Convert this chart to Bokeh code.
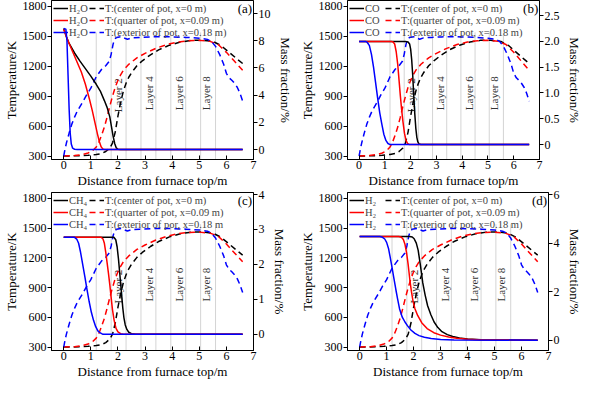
import math
from bokeh.plotting import figure
from bokeh.models import Range1d, LinearAxis, FixedTicker, Legend, LegendItem, Label
from bokeh.layouts import column, row
from bokeh.embed import file_html
from bokeh.resources import INLINE
from bokeh.core.properties import value

FONT = "Liberation Serif"

# ---------------- data ----------------
x_ticks = [0, 1, 2, 3, 4, 5, 6, 7]
t_ticks = [300, 600, 900, 1200, 1500, 1800]

layer_lines_x = [1.2, 1.75, 2.3, 2.85, 3.4, 3.95, 4.5, 5.05, 5.6]
layer_names = ["Layer 2", "Layer 4", "Layer 6", "Layer 8"]
layer_label_x = [2.0, 3.15, 4.25, 5.25]
layer_label_T = [910, 930, 930, 930]

# temperature profiles (K)
tc_x = [0, 0.3, 0.6, 0.9, 1.2, 1.4, 1.55, 1.7, 1.8, 1.9, 2.0, 2.1, 2.2, 2.3, 2.4, 2.5, 2.7, 2.9,
        3.2, 3.5, 3.9, 4.3, 4.7, 5.1, 5.5, 5.8, 6.1, 6.4, 6.6]
tc_T = [300, 301, 303, 307, 315, 325, 345, 380, 430, 540, 700, 840, 950, 1030, 1090, 1135, 1205, 1255,
        1315, 1365, 1412, 1443, 1460, 1462, 1450, 1408, 1340, 1272, 1228]

tq_x = [0, 0.4, 0.7, 0.9, 1.05, 1.2, 1.3, 1.4, 1.5, 1.6, 1.7, 1.8, 1.9, 2.0, 2.1, 2.2, 2.4, 2.7,
        3.0, 3.4, 3.8, 4.2, 4.6, 5.0, 5.4, 5.7, 6.0, 6.3, 6.6]
tq_T = [300, 304, 315, 330, 350, 390, 440, 510, 590, 690, 800, 900, 990, 1060, 1115, 1160, 1220, 1285,
        1330, 1380, 1418, 1443, 1457, 1460, 1450, 1418, 1340, 1250, 1160]

te_x = [0, 0.05, 0.1, 0.2, 0.3, 0.4, 0.5, 0.7, 0.85, 1.0, 1.2, 1.4, 1.55, 1.68, 1.75, 1.82, 1.88,
        1.95, 2.05, 2.15, 2.25, 2.35, 2.5, 2.8, 3.2, 3.6, 4.0, 4.5, 5.0, 5.3, 5.45, 5.6, 5.75,
        5.9, 6.0, 6.1, 6.2, 6.3, 6.4, 6.5, 6.6]
te_T = [300, 370, 430, 530, 620, 690, 750, 840, 915, 980, 1095, 1170, 1205, 1250, 1320, 1420, 1475,
        1488, 1494, 1497, 1482, 1472, 1485, 1490, 1495, 1497, 1495, 1490, 1482, 1470, 1450, 1400, 1320,
        1220, 1130, 1085, 1060, 1030, 990, 930, 850]

# (a) H2O mass fraction (%)
h2o_k_x = [0, 0.1, 0.2, 0.4, 0.6, 0.8, 1.0, 1.2, 1.35, 1.5, 1.6, 1.7, 1.76, 1.82, 1.88, 1.94, 2.0, 2.1, 6.6]
h2o_k_y = [8.9, 8.3, 7.8, 7.1, 6.5, 5.95, 5.4, 4.8, 4.3, 3.6, 3.1, 2.4, 1.7, 1.0, 0.45, 0.12, 0.02, 0, 0]
h2o_r_x = [0, 0.1, 0.2, 0.35, 0.5, 0.65, 0.8, 0.95, 1.05, 1.15, 1.25, 1.32, 1.38, 1.44, 1.5, 6.6]
h2o_r_y = [8.85, 8.3, 7.8, 7.1, 6.4, 5.7, 4.8, 3.7, 2.9, 2.0, 1.1, 0.55, 0.2, 0.05, 0, 0]
h2o_b_x = [0, 0.08, 0.12, 0.16, 0.2, 0.24, 0.28, 0.33, 0.4, 0.5, 6.6]
h2o_b_y = [8.9, 8.85, 8.0, 5.5, 3.0, 1.2, 0.4, 0.1, 0.02, 0, 0]

# (b) CO
co_k_x = [0, 1.8, 1.9, 1.96, 2.0, 2.04, 2.08, 2.12, 2.16, 2.2, 2.24, 2.28, 2.33, 2.4, 6.6]
co_k_y = [2.0, 2.0, 1.99, 1.95, 1.85, 1.65, 1.35, 0.95, 0.6, 0.32, 0.14, 0.05, 0.01, 0, 0]
co_r_x = [0, 1.25, 1.32, 1.38, 1.44, 1.5, 1.55, 1.6, 1.65, 1.7, 1.76, 1.82, 1.88, 1.95, 6.6]
co_r_y = [2.0, 2.0, 1.99, 1.95, 1.8, 1.55, 1.25, 0.95, 0.68, 0.45, 0.22, 0.08, 0.02, 0, 0]
co_b_x = [0, 0.25, 0.32, 0.4, 0.48, 0.56, 0.64, 0.72, 0.8, 0.88, 0.96, 1.04, 1.12, 1.2, 6.6]
co_b_y = [2.0, 2.0, 1.98, 1.92, 1.75, 1.5, 1.2, 0.9, 0.62, 0.4, 0.2, 0.08, 0.02, 0, 0]

# (c) CH4
ch4_k_x = [0, 1.85, 1.92, 1.97, 2.02, 2.06, 2.1, 2.14, 2.18, 2.22, 2.27, 2.33, 2.4, 2.5, 2.65, 6.6]
ch4_k_y = [2.77, 2.77, 2.7, 2.5, 2.15, 1.8, 1.45, 1.1, 0.75, 0.48, 0.27, 0.14, 0.06, 0.02, 0, 0]
ch4_r_x = [0, 1.38, 1.45, 1.5, 1.55, 1.6, 1.65, 1.7, 1.75, 1.8, 1.86, 1.93, 2.0, 2.1, 2.2, 6.6]
ch4_r_y = [2.77, 2.77, 2.72, 2.6, 2.35, 2.05, 1.75, 1.42, 1.05, 0.7, 0.4, 0.17, 0.07, 0.02, 0, 0]
ch4_b_x = [0, 0.4, 0.48, 0.55, 0.62, 0.7, 0.78, 0.86, 0.94, 1.02, 1.1, 1.18, 1.26, 1.35, 1.45, 6.6]
ch4_b_y = [2.77, 2.77, 2.72, 2.6, 2.35, 2.0, 1.65, 1.28, 0.93, 0.63, 0.4, 0.22, 0.1, 0.04, 0, 0]

# (d) H2
h2_k_x = [0, 1.85, 1.95, 2.02, 2.1, 2.17, 2.25, 2.34, 2.43, 2.52, 2.64, 2.76, 2.9, 3.05, 3.25, 3.45,
          3.7, 4.0, 4.5, 6.6]
h2_k_y = [4.27, 4.27, 4.25, 4.18, 4.0, 3.7, 3.1, 2.36, 1.85, 1.42, 1.05, 0.75, 0.52, 0.35, 0.23, 0.15,
          0.09, 0.05, 0.02, 0]
h2_r_x = [0, 1.45, 1.55, 1.62, 1.68, 1.74, 1.8, 1.86, 1.92, 1.98, 2.05, 2.15, 2.3, 2.5, 2.75, 3.0,
          3.3, 3.6, 4.0, 4.6, 6.6]
h2_r_y = [4.27, 4.27, 4.24, 4.15, 3.95, 3.6, 3.1, 2.5, 2.0, 1.6, 1.3, 1.02, 0.72, 0.48, 0.31, 0.21,
          0.13, 0.08, 0.04, 0.01, 0]
h2_b_x = [0, 0.75, 0.85, 0.93, 1.0, 1.07, 1.13, 1.2, 1.27, 1.34, 1.41, 1.48, 1.58, 1.68, 1.77, 1.9,
          2.05, 2.2, 2.4, 2.65, 3.0, 3.5, 6.6]
h2_b_y = [4.27, 4.27, 4.24, 4.17, 4.03, 3.78, 3.43, 3.0, 2.55, 2.1, 1.68, 1.29, 0.95, 0.75, 0.6, 0.42,
          0.28, 0.19, 0.12, 0.07, 0.03, 0.01, 0]

t_labels_std = ["T:(center of pot, x=0 m)", "T:(quarter of pot, x=0.09 m)", "T:(exterior of pot, x=0.18 m)"]
t_labels_c = ["T:(center of pot, x=0 m)", "T:(quarter of pot, x=0.09 m)", "T:(exterior of por, x=0.18 m"]

BLACK, RED, BLUE = "#000000", "#ff0000", "#0000ff"
T_LO, T_HI = 265, 1860


def make_panel(species, mf_series, mf_range, mf_ticks, mf_fmt, tag, t_labels,
               width, height, border_right, border_top):
    p = figure(width=width, height=height, output_backend="svg", toolbar_location=None,
               x_range=Range1d(-0.45, 7), y_range=Range1d(T_LO, T_HI),
               min_border_left=40, min_border_right=border_right, min_border_top=border_top,
               min_border_bottom=26)
    p.xgrid.visible = False
    p.ygrid.visible = False
    p.outline_line_color = "black"
    p.outline_line_width = 1
    p.background_fill_color = "white"
    p.extra_y_ranges = {"mf": Range1d(*mf_range)}

    xa = p.xaxis[0]
    xa.ticker = FixedTicker(ticks=x_ticks)
    xa.axis_label = "Distance from furnace top/m"
    ya = p.yaxis[0]
    ya.ticker = FixedTicker(ticks=t_ticks)
    ya.axis_label = "Temperature/K"
    ra = LinearAxis(y_range_name="mf", ticker=FixedTicker(ticks=mf_ticks),
                    axis_label="Mass fraction/%")
    ra.major_label_overrides = mf_fmt
    p.add_layout(ra, "right")
    for ax in (xa, ya, ra):
        ax.axis_label_text_font = FONT
        ax.axis_label_text_font_size = "13px"
        ax.axis_label_text_font_style = "normal"
        ax.axis_label_text_color = "black"
        ax.axis_label_text_line_height = 1.0
        ax.major_label_text_font = FONT
        ax.major_label_text_font_size = "12px"
        ax.major_label_text_color = "black"
        ax.major_label_text_line_height = 1.0
        ax.minor_tick_line_color = None
        ax.axis_line_color = "black"
        ax.major_tick_line_color = "black"
        ax.major_label_standoff = 1
        ax.axis_label_standoff = 1
    ra.axis_label_standoff = 4
    xa.major_tick_in = 4
    xa.major_tick_out = 0
    for ax in (ya, ra):
        ax.major_tick_in = 0
        ax.major_tick_out = 4

    # layer boundaries and labels
    p.segment(x0=layer_lines_x, y0=[T_LO] * len(layer_lines_x), x1=layer_lines_x,
              y1=[1540] * len(layer_lines_x), line_color="#d4d4d4", line_width=1)
    p.text(x=layer_label_x, y=layer_label_T, text=layer_names, angle=math.pi / 2,
           text_align="center", text_baseline="middle", text_font=value(FONT),
           text_font_size="11px", text_color="#333333")

    # temperature (dashed)
    t_k = p.line(tc_x, tc_T, line_color=BLACK, line_width=1.5, line_dash="6 4")
    t_r = p.line(tq_x, tq_T, line_color=RED, line_width=1.5, line_dash="6 4")
    t_b = p.line(te_x, te_T, line_color=BLUE, line_width=1.5, line_dash="6 4")

    # mass fractions (solid)
    (kx, ky), (rx, ry), (bx, by) = mf_series
    s_k = p.line(kx, ky, y_range_name="mf", line_color=BLACK, line_width=1.5)
    s_r = p.line(rx, ry, y_range_name="mf", line_color=RED, line_width=1.5)
    s_b = p.line(bx, by, y_range_name="mf", line_color=BLUE, line_width=1.5)

    legend = Legend(items=[LegendItem(label=value(species), renderers=[s_k]),
                           LegendItem(label=value(species), renderers=[s_r]),
                           LegendItem(label=value(species), renderers=[s_b]),
                           LegendItem(label=value(t_labels[0]), renderers=[t_k]),
                           LegendItem(label=value(t_labels[1]), renderers=[t_r]),
                           LegendItem(label=value(t_labels[2]), renderers=[t_b])],
                    ncols=2, orientation="vertical", location="top_left",
                    margin=1, padding=1, spacing=0,
                    glyph_width=15, glyph_height=12, label_height=12, label_standoff=1,
                    label_text_font=FONT, label_text_font_size="10.5px",
                    background_fill_alpha=0, border_line_alpha=0)
    p.add_layout(legend)

    p.add_layout(Label(x=6.95, y=1775, text=tag, text_align="right", text_baseline="middle",
                       text_font=FONT, text_font_size="13px", text_color="black"))
    return p


pa = make_panel("H\u2082O", [(h2o_k_x, h2o_k_y), (h2o_r_x, h2o_r_y), (h2o_b_x, h2o_b_y)],
                (-0.733, 10.96), [0, 2, 4, 6, 8, 10], {}, "(a)", t_labels_std,
                296, 190, 43, 0)
pb = make_panel("CO", [(co_k_x, co_k_y), (co_r_x, co_r_y), (co_b_x, co_b_y)],
                (-0.29, 2.794), [0, 0.5, 1.0, 1.5, 2.0, 2.5],
                {0: "0", 0.5: "0.5", 1: "1.0", 1.5: "1.5", 2: "2.0", 2.5: "2.5"}, "(b)", t_labels_std,
                288, 190, 35, 0)
pc = make_panel("CH\u2084", [(ch4_k_x, ch4_k_y), (ch4_r_x, ch4_r_y), (ch4_b_x, ch4_b_y)],
                (-0.461, 4.049), [0, 1, 2, 3, 4], {}, "(c)", t_labels_c,
                296, 191, 43, 2)
pd = make_panel("H\u2082", [(h2_k_x, h2_k_y), (h2_r_x, h2_r_y), (h2_b_x, h2_b_y)],
                (-0.424, 6.086), [0, 2, 4, 6], {}, "(d)", t_labels_std,
                288, 191, 35, 2)

layout = column(row(pa, pb), row(pc, pd))
open("out.html", "w").write(file_html(layout, INLINE))
